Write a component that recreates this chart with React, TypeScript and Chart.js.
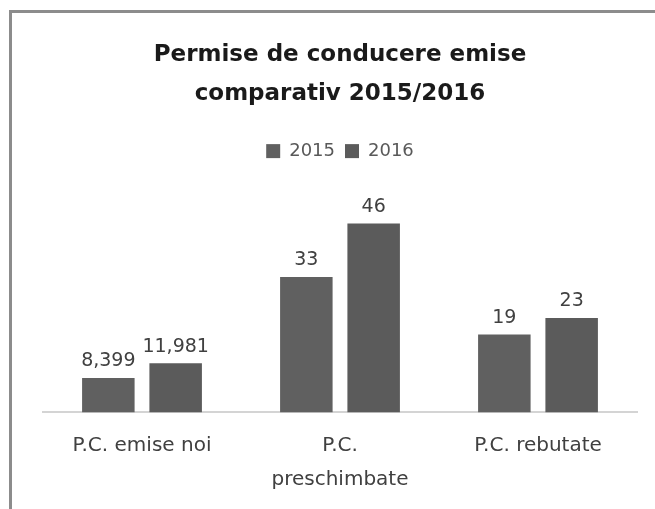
import React, { useEffect, useRef } from "react";
import { Chart, registerables } from "chart.js";

Chart.register(...registerables);

const categories: (string | string[])[] = ["P.C. emise noi", ["P.C.", "preschimbate"], "P.C. rebutate"];
const values2015: number[] = [8.399, 33, 19];
const values2016: number[] = [11.981, 46, 23];
const labels2015: string[] = ["8,399", "33", "19"];
const labels2016: string[] = ["11,981", "46", "23"];
const titleLines: string[] = ["Permise de conducere emise", "comparativ 2015/2016"];

const FONT = "'DejaVu Sans', sans-serif";

export default function App() {
  const ref = useRef<HTMLCanvasElement | null>(null);
  useEffect(() => {
    document.body.style.margin = "0";
    const canvas = ref.current!;
    const framePlugin = {
      id: "frame",
      beforeDraw(chart: any) {
        const ctx = chart.ctx;
        ctx.save();
        ctx.fillStyle = "#ffffff";
        ctx.fillRect(0, 0, chart.width, chart.height);
        ctx.fillStyle = "#8c8c8c";
        ctx.fillRect(9, 10, chart.width - 9, 3);
        ctx.fillRect(9, 10, 3, chart.height - 10);
        ctx.restore();
      },
    };
    const legendSpace = {
      id: "legendSpace",
      beforeUpdate(chart: any) {
        const lg = chart.legend;
        if (lg && !lg._patched) {
          const orig = lg.fit;
          lg.fit = function () {
            orig.call(this);
            this.height += 37;
          };
          lg._patched = true;
        }
      },
    };
    const valueLabels = {
      id: "valueLabels",
      afterDatasetsDraw(chart: any) {
        const ctx = chart.ctx;
        ctx.save();
        ctx.font = `19px ${FONT}`;
        ctx.fillStyle = "#404040";
        ctx.textAlign = "center";
        ctx.textBaseline = "bottom";
        const lbls = [labels2015, labels2016];
        chart.data.datasets.forEach((ds: any, di: number) => {
          const meta = chart.getDatasetMeta(di);
          meta.data.forEach((bar: any, i: number) => {
            ctx.fillText(lbls[di][i], bar.x, bar.y - 7);
          });
        });
        ctx.restore();
      },
    };
    const chart = new Chart(canvas, {
      type: "bar",
      data: {
        labels: categories,
        datasets: [
          { label: "2015", data: values2015, backgroundColor: "#606060" },
          { label: "2016", data: values2016, backgroundColor: "#5b5b5b" },
        ],
      },
      options: {
        animation: false,
        responsive: false,
        maintainAspectRatio: false,
        layout: { padding: { left: 43, right: 18, top: 0, bottom: -4 } },
        datasets: { bar: { categoryPercentage: 0.68, barPercentage: 0.78 } },
        scales: {
          x: {
            grid: { display: false, drawTicks: false },
            border: { display: true, color: "#d4d4d4", width: 2 },
            ticks: {
              color: "#404040",
              font: { family: FONT, size: 20, lineHeight: 1.665 },
              padding: 17,
              maxRotation: 0,
            },
          },
          y: { display: false, min: 0, max: 50 },
        },
        plugins: {
          title: {
            display: true,
            text: titleLines,
            color: "#1a1a1a",
            font: { family: FONT, size: 23, weight: "bold", lineHeight: 1.72 },
            padding: { top: 35, bottom: 18 },
          },
          legend: {
            display: true,
            labels: {
              color: "#595959",
              font: { family: FONT, size: 18 },
              boxWidth: 14,
              boxHeight: 14,
              padding: 10,
            },
          },
          tooltip: { enabled: false },
        },
      },
      plugins: [framePlugin, legendSpace, valueLabels],
    } as any);
    return () => chart.destroy();
  }, []);
  return <canvas ref={ref} width={655} height={509} style={{ display: "block" }} />;
}
